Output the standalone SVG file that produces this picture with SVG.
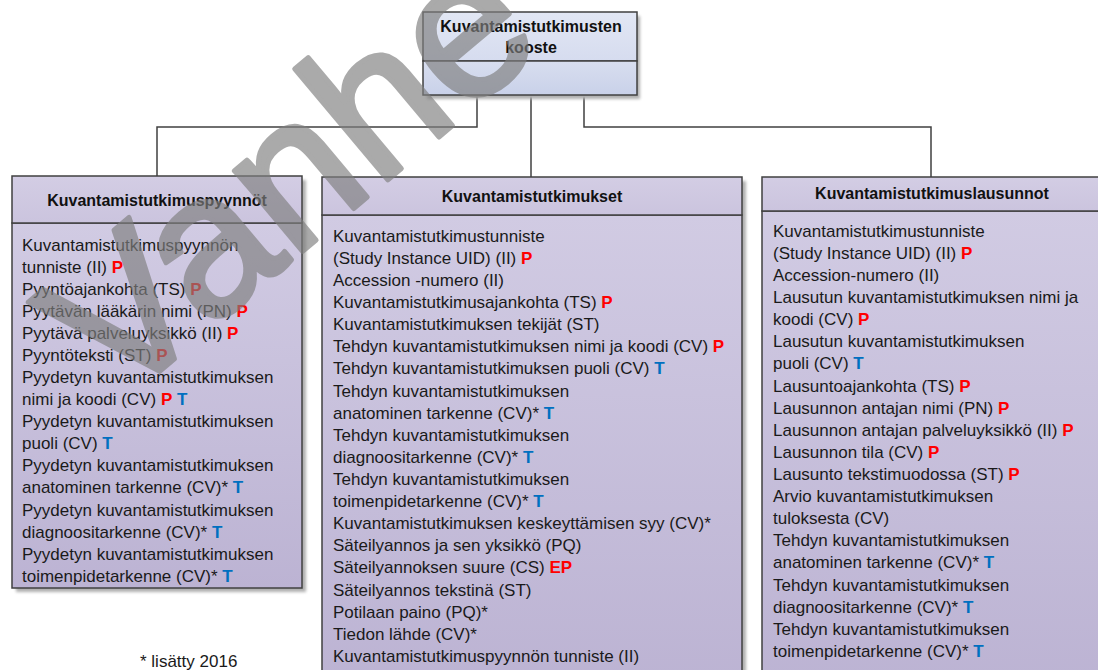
<svg xmlns="http://www.w3.org/2000/svg" width="1098" height="670" viewBox="0 0 1098 670">
<defs>
<linearGradient id="gBody" x1="0" y1="0" x2="0" y2="1">
<stop offset="0" stop-color="#d1cbe3"/>
<stop offset="1" stop-color="#bcb3d3"/>
</linearGradient>
<linearGradient id="gHead" x1="0" y1="0" x2="0" y2="1">
<stop offset="0" stop-color="#d3cde4"/>
<stop offset="1" stop-color="#cbc4de"/>
</linearGradient>
<linearGradient id="gTopHead" x1="0" y1="0" x2="0" y2="1">
<stop offset="0" stop-color="#e2e7f4"/>
<stop offset="1" stop-color="#d6dcef"/>
</linearGradient>
<linearGradient id="gTopBody" x1="0" y1="0" x2="0" y2="1">
<stop offset="0" stop-color="#d8deef"/>
<stop offset="1" stop-color="#c9d1e9"/>
</linearGradient>
<filter id="blur" x="-5%" y="-5%" width="110%" height="110%"><feGaussianBlur stdDeviation="1.5"/></filter>
</defs>
<style>
.frame{stroke:#404040;stroke-width:1.5;}
.shadow{fill:#b0b0b0;filter:url(#blur);}
.title{font-family:"Liberation Sans",Arial,sans-serif;font-weight:bold;font-size:16px;fill:#111;text-anchor:middle;}
.item{font-family:"Liberation Sans",Arial,sans-serif;font-size:17px;fill:#1a1a1a;}
.p{fill:#ff0000;font-weight:bold;}
.t{fill:#0070c0;font-weight:bold;}
.conn{fill:none;stroke:#404040;stroke-width:1.5;}
.wm{font-family:"Liberation Sans",Arial,sans-serif;font-size:200px;fill:#7f7f7f;stroke:#7f7f7f;stroke-width:5;stroke-linejoin:round;}
</style>
<rect width="1098" height="670" fill="#ffffff"/>

<g id="connectors">
<path class="conn" d="M477,95 V127 H157 V176"/>
<path class="conn" d="M531,95 V177"/>
<path class="conn" d="M584,95 V127 H931 V177"/>
</g>

<g id="node-kooste">
<rect class="shadow" x="427" y="16" width="213" height="83"/>
<rect x="423" y="12" width="214" height="49" fill="url(#gTopHead)" class="frame"/>
<rect x="423" y="61" width="214" height="34" fill="url(#gTopBody)" class="frame"/>
<text class="title" x="531" y="32">Kuvantamistutkimusten</text>
<text class="title" x="531" y="53">kooste</text>
</g>

<g id="node-pyynnot">
<rect class="shadow" x="16" y="180" width="290" height="412"/>
<rect x="12" y="223" width="290" height="365" fill="url(#gBody)" class="frame"/>
<rect x="12" y="176" width="290" height="47" fill="url(#gHead)" class="frame"/>
<text class="title" x="157" y="206">Kuvantamistutkimuspyynnöt</text>
<g class="item">
<text x="22" y="251">Kuvantamistutkimuspyynnön</text>
<text x="22" y="273">tunniste (II) <tspan class="p">P</tspan></text>
<text x="22" y="295">Pyyntöajankohta (TS) <tspan class="p">P</tspan></text>
<text x="22" y="317">Pyytävän lääkärin nimi (PN) <tspan class="p">P</tspan></text>
<text x="22" y="339">Pyytävä palveluyksikkö (II) <tspan class="p">P</tspan></text>
<text x="22" y="361">Pyyntöteksti (ST) <tspan class="p">P</tspan></text>
<text x="22" y="383">Pyydetyn kuvantamistutkimuksen</text>
<text x="22" y="405">nimi ja koodi (CV) <tspan class="p">P</tspan> <tspan class="t">T</tspan></text>
<text x="22" y="427">Pyydetyn kuvantamistutkimuksen</text>
<text x="22" y="449">puoli (CV) <tspan class="t">T</tspan></text>
<text x="22" y="471">Pyydetyn kuvantamistutkimuksen</text>
<text x="22" y="493">anatominen tarkenne (CV)* <tspan class="t">T</tspan></text>
<text x="22" y="516">Pyydetyn kuvantamistutkimuksen</text>
<text x="22" y="538">diagnoositarkenne (CV)* <tspan class="t">T</tspan></text>
<text x="22" y="560">Pyydetyn kuvantamistutkimuksen</text>
<text x="22" y="582">toimenpidetarkenne (CV)* <tspan class="t">T</tspan></text>
</g>
</g>

<g id="node-tutkimukset">
<rect class="shadow" x="326" y="181" width="420" height="500"/>
<rect x="322" y="215" width="420" height="470" fill="url(#gBody)" class="frame"/>
<rect x="322" y="177" width="420" height="38" fill="url(#gHead)" class="frame"/>
<text class="title" x="532" y="202">Kuvantamistutkimukset</text>
<g class="item">
<text x="333" y="242">Kuvantamistutkimustunniste</text>
<text x="333" y="264">(Study Instance UID) (II) <tspan class="p">P</tspan></text>
<text x="333" y="286">Accession -numero (II)</text>
<text x="333" y="308">Kuvantamistutkimusajankohta (TS) <tspan class="p">P</tspan></text>
<text x="333" y="330">Kuvantamistutkimuksen tekijät (ST)</text>
<text x="333" y="352">Tehdyn kuvantamistutkimuksen nimi ja koodi (CV) <tspan class="p">P</tspan></text>
<text x="333" y="374">Tehdyn kuvantamistutkimuksen puoli (CV) <tspan class="t">T</tspan></text>
<text x="333" y="397">Tehdyn kuvantamistutkimuksen</text>
<text x="333" y="419">anatominen tarkenne (CV)* <tspan class="t">T</tspan></text>
<text x="333" y="441">Tehdyn kuvantamistutkimuksen</text>
<text x="333" y="463">diagnoositarkenne (CV)* <tspan class="t">T</tspan></text>
<text x="333" y="485">Tehdyn kuvantamistutkimuksen</text>
<text x="333" y="507">toimenpidetarkenne (CV)* <tspan class="t">T</tspan></text>
<text x="333" y="529">Kuvantamistutkimuksen keskeyttämisen syy (CV)*</text>
<text x="333" y="551">Säteilyannos ja sen yksikkö (PQ)</text>
<text x="333" y="573">Säteilyannoksen suure (CS) <tspan class="p">EP</tspan></text>
<text x="333" y="596">Säteilyannos tekstinä (ST)</text>
<text x="333" y="618">Potilaan paino (PQ)*</text>
<text x="333" y="640">Tiedon lähde (CV)*</text>
<text x="333" y="662">Kuvantamistutkimuspyynnön tunniste (II)</text>
</g>
</g>

<g id="node-lausunnot">
<rect class="shadow" x="766" y="181" width="340" height="500"/>
<rect x="762" y="211" width="340" height="474" fill="url(#gBody)" class="frame"/>
<rect x="762" y="177" width="340" height="34" fill="url(#gHead)" class="frame"/>
<text class="title" x="932" y="199">Kuvantamistutkimuslausunnot</text>
<g class="item">
<text x="773" y="237">Kuvantamistutkimustunniste</text>
<text x="773" y="259">(Study Instance UID) (II) <tspan class="p">P</tspan></text>
<text x="773" y="281">Accession-numero (II)</text>
<text x="773" y="303">Lausutun kuvantamistutkimuksen nimi ja</text>
<text x="773" y="325">koodi (CV) <tspan class="p">P</tspan></text>
<text x="773" y="347">Lausutun kuvantamistutkimuksen</text>
<text x="773" y="369">puoli (CV) <tspan class="t">T</tspan></text>
<text x="773" y="392">Lausuntoajankohta (TS) <tspan class="p">P</tspan></text>
<text x="773" y="414">Lausunnon antajan nimi (PN) <tspan class="p">P</tspan></text>
<text x="773" y="436">Lausunnon antajan palveluyksikkö (II) <tspan class="p">P</tspan></text>
<text x="773" y="458">Lausunnon tila (CV) <tspan class="p">P</tspan></text>
<text x="773" y="480">Lausunto tekstimuodossa (ST) <tspan class="p">P</tspan></text>
<text x="773" y="502">Arvio kuvantamistutkimuksen</text>
<text x="773" y="524">tuloksesta (CV)</text>
<text x="773" y="546">Tehdyn kuvantamistutkimuksen</text>
<text x="773" y="568">anatominen tarkenne (CV)* <tspan class="t">T</tspan></text>
<text x="773" y="591">Tehdyn kuvantamistutkimuksen</text>
<text x="773" y="613">diagnoositarkenne (CV)* <tspan class="t">T</tspan></text>
<text x="773" y="635">Tehdyn kuvantamistutkimuksen</text>
<text x="773" y="657">toimenpidetarkenne (CV)* <tspan class="t">T</tspan></text>
</g>
</g>

<text class="item" x="140" y="667">* lisätty 2016</text>

<g id="watermark" opacity="0.66">
<text class="wm" x="116" y="408" transform="rotate(-40 116 408)">Vanhe</text>
</g>
</svg>
